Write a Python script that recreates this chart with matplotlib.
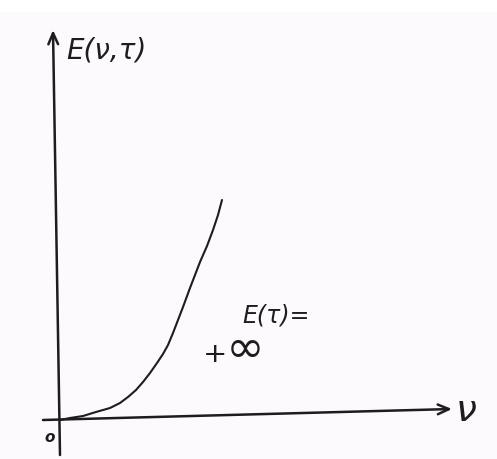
import matplotlib
matplotlib.use("Agg")
import matplotlib.pyplot as plt
from matplotlib.patches import Rectangle

# Sketch of the energy E(nu, tau) growing without bound as nu increases
nu = [0, 10, 23, 36, 50, 60, 68, 76, 83, 90, 97, 103, 108, 113, 118,
      123, 130, 140, 147, 153, 158, 162]
energy = [0, 2, 4, 8, 12, 17, 23, 30, 38, 47, 57, 66, 75, 87, 100,
          113, 132, 158, 174, 190, 205, 220]

# hand-drawn axes (start and end points, slightly tilted like a pen stroke)
x_axis = [(-17, 0), (392, 11)]
y_axis = [(0, -35), (-7, 390)]

ink = "#1e1c1f"
paper = "#fdfafd"

fig = plt.figure(figsize=(4.97, 4.59), dpi=100, facecolor=paper)
ax = fig.add_axes([0, 0, 1, 1])
ax.set_xlim(-60, 437)
ax.set_ylim(-39, 420)
ax.set_facecolor(paper)
ax.axis("off")

# pale strip along the top edge of the scanned sheet
ax.add_patch(Rectangle((0, 1 - 12 / 459), 1, 12 / 459, transform=ax.transAxes,
                       facecolor="white", edgecolor="none", zorder=0))

arrow = dict(arrowstyle="->,head_length=0.8,head_width=0.35", color=ink, lw=1.8,
             shrinkA=0, shrinkB=0)
ax.annotate("", xy=x_axis[1], xytext=x_axis[0], arrowprops=arrow)
ax.annotate("", xy=y_axis[1], xytext=y_axis[0], arrowprops=arrow)

ax.plot(nu, energy, color=ink, lw=1.5, solid_capstyle="round",
        solid_joinstyle="round")

hand = dict(color=ink, family="DejaVu Sans", style="oblique")
ax.text(6, 370, "E(ν,τ)", fontsize=20, ha="left", va="center", **hand)
ax.text(396, 9, "ν", fontsize=27, ha="left", va="center", **hand)
ax.text(-10, -17, "o", fontsize=11, ha="center", va="center", weight="bold", **hand)
ax.text(182, 104, "E(τ)=", fontsize=17, ha="left", va="center", **hand)
ax.text(143, 71, "₊∞", fontsize=33, ha="left", va="center", color=ink,
        family="DejaVu Sans")

fig.savefig("out.png", dpi=100, facecolor=paper)
